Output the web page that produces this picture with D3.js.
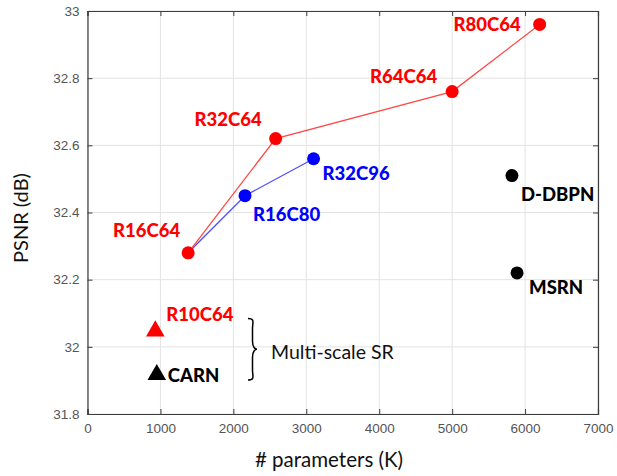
<!DOCTYPE html>
<html><head><meta charset="utf-8">
<script src="https://cdn.jsdelivr.net/npm/d3@7"></script>
<style>body{margin:0;background:#fff}svg{display:block}</style>
</head><body>
<svg id="c" width="617" height="476"></svg>
<script>
// Data
const redNames = ["R16C64","R32C64","R64C64","R80C64"];
const redParams = [1380, 2580, 5000, 6200];
const redPSNR = [32.28, 32.62, 32.76, 32.96];

const blueNames = ["R16C64","R16C80","R32C96"];
const blueParams = [1380, 2160, 3100];
const bluePSNR = [32.28, 32.45, 32.56];

const otherNames = ["D-DBPN","MSRN"];
const otherParams = [5820, 5890];
const otherPSNR = [32.51, 32.22];

const multiNames = ["R10C64","CARN"];
const multiParams = [930, 950];
const multiPSNR = [32.05, 31.92];
const multiColors = ["#ff0000","#000000"];

const xTicks = [0,1000,2000,3000,4000,5000,6000,7000];
const yTicks = [31.8,32,32.2,32.4,32.6,32.8,33];
const xLabel = "# parameters (K)";
const yLabel = "PSNR (dB)";
const braceLabel = "Multi-scale SR";

const svg = d3.select("#c");
const L = 87.5, R = 598, T = 11, B = 414;
const x = d3.scaleLinear().domain([0,7000]).range([L,R]);
const y = d3.scaleLinear().domain([31.8,33]).range([B,T]);
const FONT = "Lato, 'Open Sans', sans-serif";

// grid
const g = svg.append("g");
g.selectAll(".gx").data(xTicks).join("line")
  .attr("x1",d=>x(d)).attr("x2",d=>x(d)).attr("y1",T).attr("y2",B)
  .attr("stroke","#e3e3e3").attr("stroke-width",1);
g.selectAll(".gy").data(yTicks).join("line")
  .attr("x1",L).attr("x2",R).attr("y1",d=>y(d)).attr("y2",d=>y(d))
  .attr("stroke","#e3e3e3").attr("stroke-width",1);

// axes
const fmtY = d=> d3.format("~g")(d);
const axB = d3.axisBottom(x).tickValues(xTicks).tickSize(-5).tickPadding(9).tickFormat(d3.format("d"));
const axT = d3.axisTop(x).tickValues(xTicks).tickSize(-5).tickFormat("");
const axL = d3.axisLeft(y).tickValues(yTicks).tickSize(-5).tickPadding(8).tickFormat(fmtY);
const axR = d3.axisRight(y).tickValues(yTicks).tickSize(-5).tickFormat("");
function style(sel){
  sel.select(".domain").attr("stroke","#3c3c3c").attr("stroke-width",1.2);
  sel.selectAll(".tick line").attr("stroke","#3c3c3c");
  sel.selectAll(".tick text").attr("fill","#555").attr("font-family","'Liberation Sans', Arial, sans-serif").attr("font-size","13.5px");
}
svg.append("g").attr("transform",`translate(0,${B})`).call(axB).call(style);
svg.append("g").attr("transform",`translate(0,${T})`).call(axT).call(style);
svg.append("g").attr("transform",`translate(${L},0)`).call(axL).call(style);
svg.append("g").attr("transform",`translate(${R},0)`).call(axR).call(style);

// axis labels
svg.append("text").attr("x",329).attr("y",467).attr("text-anchor","middle")
  .attr("font-family",FONT).attr("font-size","20.5px").attr("fill","#111").text(xLabel);
svg.append("text").attr("transform","translate(28,218) rotate(-90)").attr("text-anchor","middle")
  .attr("font-family",FONT).attr("font-size","20px").attr("fill","#111").text(yLabel);

// lines
const line = d3.line().x(d=>x(d[0])).y(d=>y(d[1]));
svg.append("path").datum(blueParams.map((p,i)=>[p,bluePSNR[i]])).attr("d",line)
  .attr("fill","none").attr("stroke","#4d4dff").attr("stroke-width",1.3);
svg.append("path").datum(redParams.map((p,i)=>[p,redPSNR[i]])).attr("d",line)
  .attr("fill","none").attr("stroke","#ff4747").attr("stroke-width",1.3);

// markers
const r = 6.5;
svg.selectAll(".bm").data(blueParams.slice(1)).join("circle")
  .attr("cx",d=>x(d)).attr("cy",(d,i)=>y(bluePSNR[i+1])).attr("r",r).attr("fill","#0000ff");
svg.selectAll(".rm").data(redParams).join("circle")
  .attr("cx",d=>x(d)).attr("cy",(d,i)=>y(redPSNR[i])).attr("r",r).attr("fill","#ff0000");
svg.selectAll(".om").data(otherParams).join("circle")
  .attr("cx",d=>x(d)).attr("cy",(d,i)=>y(otherPSNR[i])).attr("r",r).attr("fill","#000");
const tri = d3.symbol().type(d3.symbolTriangle).size(150);
svg.selectAll(".tm").data(multiParams).join("path")
  .attr("d",tri).attr("transform",(d,i)=>`translate(${x(d)},${y(multiPSNR[i])+1})`)
  .attr("fill",(d,i)=>multiColors[i]);

// labels (offsets from the point)
const off = {
  "R16C64":[-8,-16,"end"], "R32C64":[-14,-12.6,"end"], "R64C64":[-15,-9,"end"], "R80C64":[-19,6.7,"end"],
  "R16C80":[8,25,"start"], "R32C96":[9,21,"start"],
  "D-DBPN":[9,25,"start"], "MSRN":[12,21,"start"],
  "R10C64":[11,-9,"start"], "CARN":[11,8,"start"]
};
function lab(names, params, vals, color){
  names.forEach((n,i)=>{
    const o = off[n];
    svg.append("text").attr("x",x(params[i])+o[0]).attr("y",y(vals[i])+o[1])
      .attr("text-anchor",o[2]).attr("font-family",FONT)
      .attr("font-weight","900").attr("font-size","18.5px").attr("fill",typeof color==="function"?color(i):color).text(n);
  });
}
lab(redNames, redParams, redPSNR, "#ff0000");
lab(blueNames.slice(1), blueParams.slice(1), bluePSNR.slice(1), "#0000ff");
lab(otherNames, otherParams, otherPSNR, "#000");
lab(multiNames, multiParams, multiPSNR, i=>multiColors[i]);

// brace
const bx = 248, by1 = 318.5, by2 = 380, bm = (by1+by2)/2, w = 9;
const bp = `M${bx},${by1} C${bx+w*0.8},${by1} ${bx+w*0.5},${by1+4} ${bx+w*0.5},${by1+10} L${bx+w*0.5},${bm-8} C${bx+w*0.5},${bm-2} ${bx+w*0.8},${bm} ${bx+w},${bm} C${bx+w*0.8},${bm} ${bx+w*0.5},${bm+2} ${bx+w*0.5},${bm+8} L${bx+w*0.5},${by2-10} C${bx+w*0.5},${by2-4} ${bx+w*0.8},${by2} ${bx},${by2}`;
svg.append("path").attr("d",bp).attr("fill","none").attr("stroke","#000").attr("stroke-width",1.5);
svg.append("text").attr("x",271).attr("y",358.5).attr("font-family",FONT)
  .attr("font-size","19.5px").attr("fill","#111").text(braceLabel);
</script>
</body></html>
